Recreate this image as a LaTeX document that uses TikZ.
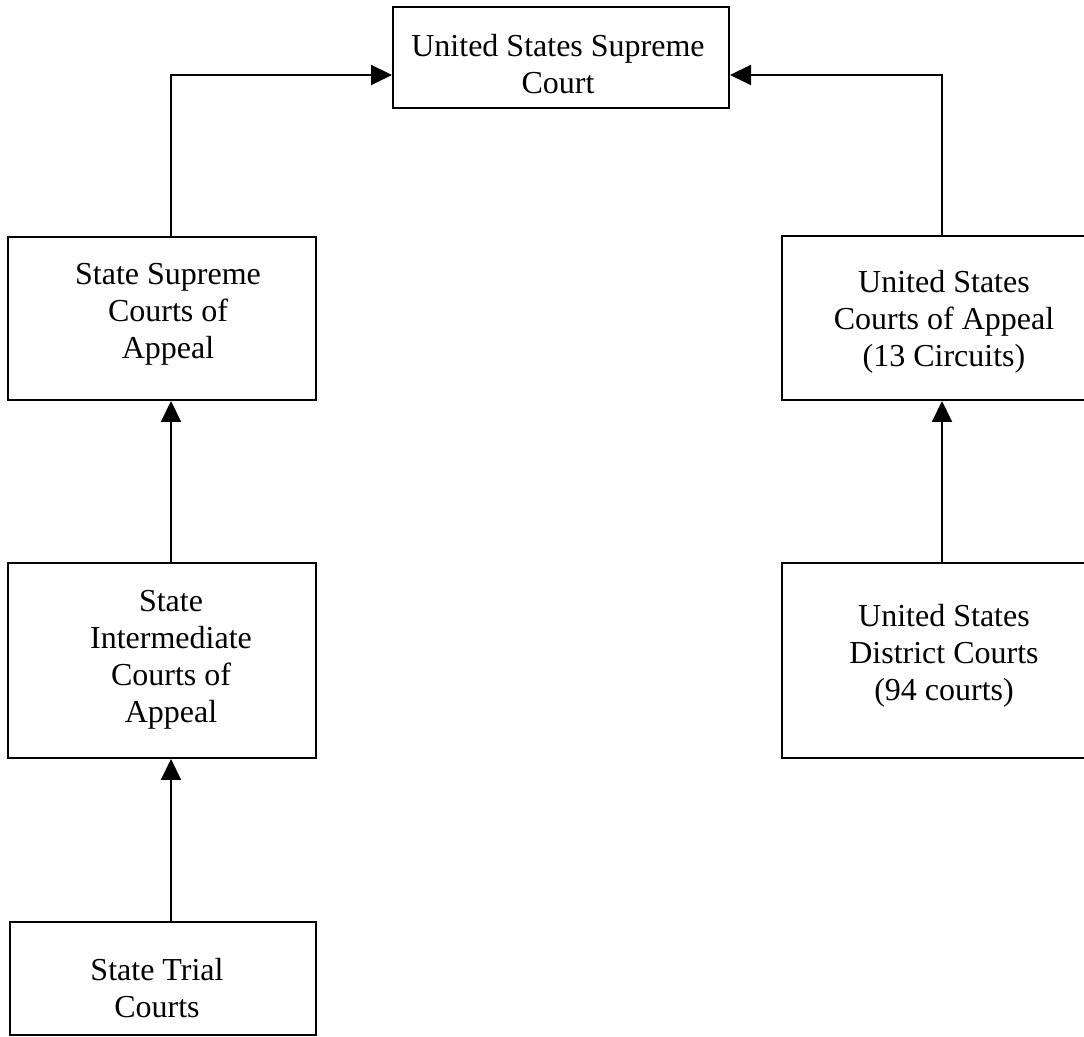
\documentclass[tikz,border=0pt]{standalone}
\usepackage{fontspec}
\setmainfont{Liberation Serif}
\usetikzlibrary{arrows.meta}
\begin{document}
\begin{tikzpicture}[x=1pt,y=1pt,
  box/.style={draw=black, line width=2pt, rectangle, inner sep=0pt, fill=white},
  txt/.style={align=center, inner sep=0pt, font=\fontsize{32}{37}\selectfont},
  arr/.style={draw=black, line width=2pt, -{Triangle[length=21pt,width=20pt]}}]
\useasboundingbox (0,0) rectangle (1084,1036);
\fill[white] (0,0) rectangle (1084,1036);
\clip (0,0) rectangle (1084,1036);
% boxes
\node[box, minimum width=336pt, minimum height=101pt] (top) at (561,978.5) {};
\node[box, minimum width=308pt, minimum height=163pt] (ss) at (162,717.5) {};
\node[box, minimum width=308pt, minimum height=195pt] (int) at (162,375.5) {};
\node[box, minimum width=306pt, minimum height=113pt] (trial) at (163,57.5) {};
\node[box, minimum width=320pt, minimum height=164pt] (app) at (942,718) {};
\node[box, minimum width=320pt, minimum height=195pt] (dist) at (942,375.5) {};
% texts
\node[txt] (topT) at (558,972) {United States Supreme\\Court};
\node[txt] (ssT) at (168,722) {State Supreme\\Courts of\\Appeal};
\node[txt] (intT) at (171,376) {State\\Intermediate\\Courts of\\Appeal};
\node[txt] (trialT) at (157,47.5) {State Trial\\Courts};
\node[txt] (appT) at (944,714) {United States\\Courts of Appeal\\(13 Circuits)};
\node[txt] (distT) at (944,380.5) {United States\\District Courts\\(94 courts)};
% connectors
\draw[arr] ([xshift=9pt]ss.north) |- ([yshift=-17.5pt]top.west);
\draw[arr] (app.north) |- ([yshift=-17.5pt]top.east);
\draw[arr] ([xshift=9pt]int.north) -- ([xshift=9pt]ss.south);
\draw[arr] ([xshift=8pt]trial.north) -- ([xshift=9pt]int.south);
\draw[arr] (dist.north) -- (app.south);
\end{tikzpicture}
\end{document}
